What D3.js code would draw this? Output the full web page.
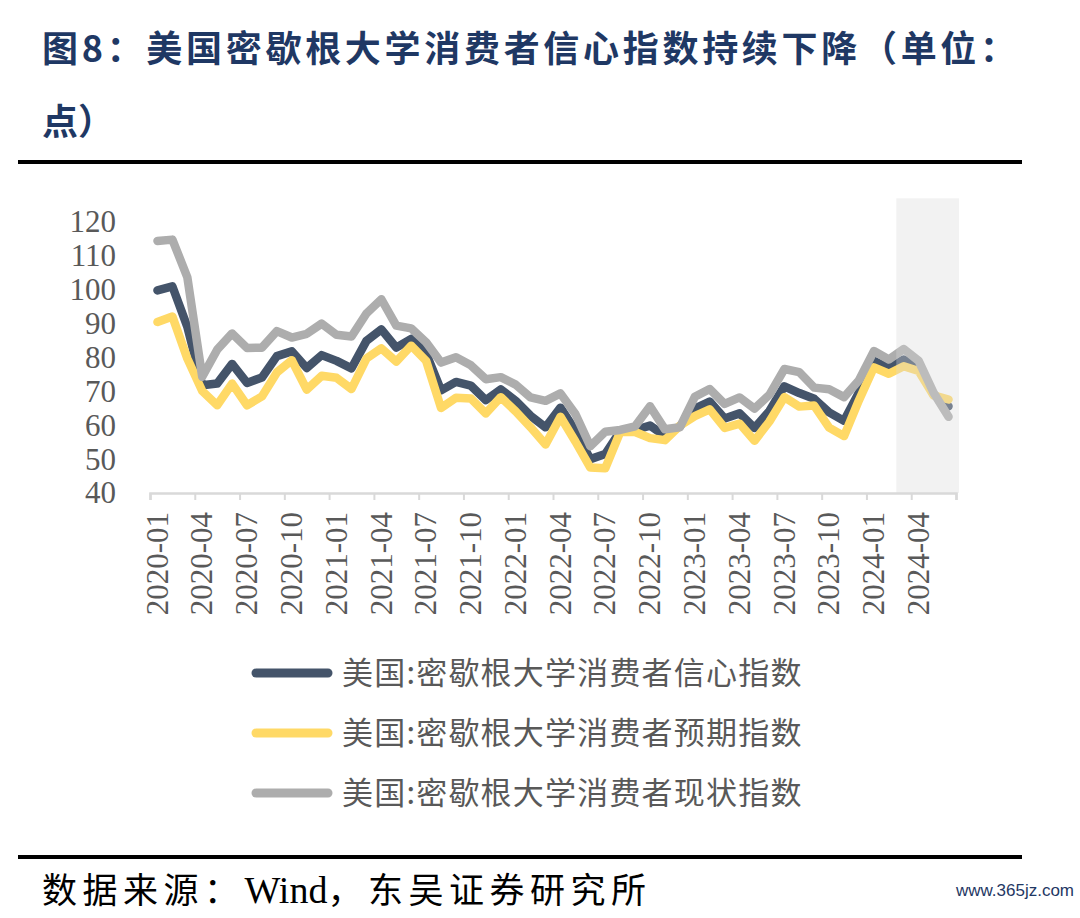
<!DOCTYPE html>
<html>
<head>
<meta charset="utf-8">
<script src="https://cdn.jsdelivr.net/npm/d3@7"></script>
<style>
  html, body { margin: 0; padding: 0; background: #fff; }
  svg { display: block; }
</style>
</head>
<body>
<div id="chart"></div>
<script>
// monthly, 2020-01 .. 2024-06
const months = d3.timeMonth.range(new Date(2020, 0, 1), new Date(2024, 6, 1)).map(d3.timeFormat("%Y-%m"));

// 密歇根大学消费者信心指数
const sentiment = [99.8, 101.0, 89.1, 71.8, 72.3, 78.1, 72.5, 74.1, 80.4, 81.8, 76.9, 80.7,
  79.0, 76.8, 84.9, 88.3, 82.9, 85.5, 81.2, 70.3, 72.8, 71.7, 67.4, 70.6,
  67.2, 62.8, 59.4, 65.2, 58.4, 50.0, 51.5, 58.2, 58.6, 59.9, 56.8, 59.7,
  64.9, 67.0, 62.0, 63.5, 59.2, 64.2, 71.5, 69.5, 67.8, 63.8, 61.3, 69.7,
  79.0, 76.9, 79.4, 77.2, 69.1, 65.6];
// 预期指数
const expectations = [90.5, 92.1, 79.7, 70.1, 65.9, 72.3, 65.9, 68.5, 75.6, 79.2, 70.5, 74.6,
  74.0, 70.7, 79.7, 82.7, 78.8, 83.5, 79.0, 65.1, 68.1, 67.9, 63.5, 68.3,
  64.1, 59.4, 54.3, 62.5, 55.2, 47.5, 47.3, 58.0, 58.0, 56.2, 55.6, 59.9,
  62.7, 64.7, 59.2, 60.5, 55.4, 61.1, 68.3, 65.5, 65.8, 59.3, 56.8, 67.4,
  77.1, 75.2, 77.4, 76.0, 68.8, 67.6];
// 现状指数
const current = [114.4, 114.8, 103.7, 74.3, 82.3, 87.1, 82.8, 82.9, 87.8, 85.9, 87.0, 90.0,
  86.7, 86.2, 93.0, 97.2, 89.4, 88.6, 84.5, 78.5, 80.1, 77.7, 73.6, 74.2,
  72.0, 68.2, 67.2, 69.4, 63.3, 53.8, 58.1, 58.6, 59.7, 65.6, 58.8, 59.4,
  68.4, 70.7, 66.3, 68.2, 64.9, 69.0, 76.6, 75.7, 71.1, 70.6, 68.3, 73.3,
  81.9, 79.4, 82.5, 79.0, 69.6, 62.5];

const tickLabels = ["2020-01", "2020-04", "2020-07", "2020-10", "2021-01", "2021-04", "2021-07", "2021-10",
  "2022-01", "2022-04", "2022-07", "2022-10", "2023-01", "2023-04", "2023-07", "2023-10", "2024-01", "2024-04"];
const yTicks = [40, 50, 60, 70, 80, 90, 100, 110, 120];
const shadeFrom = "2024-03";

const seriesNames = ["美国:密歇根大学消费者信心指数", "美国:密歇根大学消费者预期指数", "美国:密歇根大学消费者现状指数"];
const seriesColors = ["#44546A", "#FFD966", "#ADADAD"];

const W = 1080, H = 918;
const svg = d3.select("#chart").append("svg").attr("width", W).attr("height", H);

// title
const title = svg.append("g")
  .attr("fill", "#1F3864")
  .style("font-family", "'Noto Sans CJK SC', sans-serif")
  .style("font-weight", "bold")
  .style("font-size", "36px");
title.append("text").attr("x", 42).attr("y", 62).style("letter-spacing", "3.7px")
  .text("图8：美国密歇根大学消费者信心指数持续下降（单位：");
title.append("text").attr("x", 42).attr("y", 135).text("点）");

svg.append("rect").attr("x", 18).attr("y", 160).attr("width", 1004).attr("height", 4).attr("fill", "#000");
svg.append("rect").attr("x", 18).attr("y", 855).attr("width", 1004).attr("height", 4).attr("fill", "#000");

// scales
let x = d3.scaleLinear().domain([0, months.length]).range([150, 956]);
let y = d3.scaleLinear().domain([40, 120]).range([493, 222]);

// y axis labels
svg.append("g")
  .attr("transform", "translate(150,0)")
  .call(d3.axisLeft(y).tickValues(yTicks).tickSize(0).tickPadding(34))
  .call(g => g.select(".domain").remove())
  .call(g => g.selectAll("text")
    .attr("fill", "#595959")
    .style("font-family", "'Liberation Serif', serif")
    .style("font-size", "31px"));

// x axis line + ticks every 3 months
const tickIdx = tickLabels.map(t => months.indexOf(t));
svg.append("g")
  .attr("transform", "translate(0," + y(40) + ")")
  .call(d3.axisBottom(x).tickValues(tickIdx.concat([months.length])).tickSize(7).tickFormat(""))
  .call(g => g.select(".domain").attr("stroke", "#D9D9D9").attr("stroke-width", 2.5))
  .call(g => g.selectAll(".tick line").attr("stroke", "#D9D9D9").attr("stroke-width", 2));

// x labels, centered on their month
svg.append("g").selectAll("text")
  .data(tickLabels)
  .join("text")
  .attr("transform", d => "translate(" + x(months.indexOf(d) + 0.5) + ",512) rotate(-90)")
  .attr("text-anchor", "end")
  .attr("dy", "0.33em")
  .attr("fill", "#595959")
  .style("font-family", "'Liberation Serif', serif")
  .style("font-size", "31px")
  .text(d => d);

// lines
const data = [sentiment, expectations, current];
const line = d3.line()
  .x((d, i) => x(i + 0.5))
  .y(d => y(d));

svg.append("g").selectAll("path")
  .data(data)
  .join("path")
  .attr("fill", "none")
  .attr("stroke", (d, i) => seriesColors[i])
  .attr("stroke-width", 8.5)
  .attr("stroke-linejoin", "round")
  .attr("stroke-linecap", "round")
  .attr("d", line);

// highlighted recent months (drawn over the lines, translucent)
svg.append("rect")
  .attr("x", x(months.indexOf(shadeFrom)))
  .attr("y", y(127))
  .attr("width", x(months.length) - x(months.indexOf(shadeFrom)) + 3)
  .attr("height", y(40) - y(127))
  .attr("fill", "#D9D9D9")
  .attr("opacity", 0.35);

// legend
const legend = svg.append("g");
seriesNames.forEach((name, i) => {
  const ly = 673 + i * 60;
  legend.append("line")
    .attr("x1", 256).attr("x2", 328).attr("y1", ly).attr("y2", ly)
    .attr("stroke", seriesColors[i]).attr("stroke-width", 9).attr("stroke-linecap", "round");
  legend.append("text")
    .attr("x", 342).attr("y", ly + 11)
    .attr("fill", "#595959")
    .style("font-family", "'Noto Sans CJK SC', sans-serif")
    .style("font-size", "31px")
    .style("letter-spacing", "1.2px")
    .text(name);
});

// source
const src = svg.append("text")
  .attr("x", 42).attr("y", 903)
  .attr("fill", "#000")
  .style("font-family", "'Noto Sans CJK SC', sans-serif")
  .style("font-size", "35px")
  .style("letter-spacing", "5.5px");
src.append("tspan").text("数据来源：");
src.append("tspan").style("font-family", "'Liberation Serif', serif").style("font-size", "38px")
  .style("letter-spacing", "0px").text("Wind");
src.append("tspan").text("，东吴证券研究所");

svg.append("text")
  .attr("x", 956).attr("y", 896)
  .attr("fill", "#1F3864")
  .style("font-family", "'Liberation Sans Narrow', 'Liberation Sans', sans-serif")
  .style("font-size", "17px")
  .attr("textLength", 118)
  .text("www.365jz.com");
</script>
</body>
</html>
